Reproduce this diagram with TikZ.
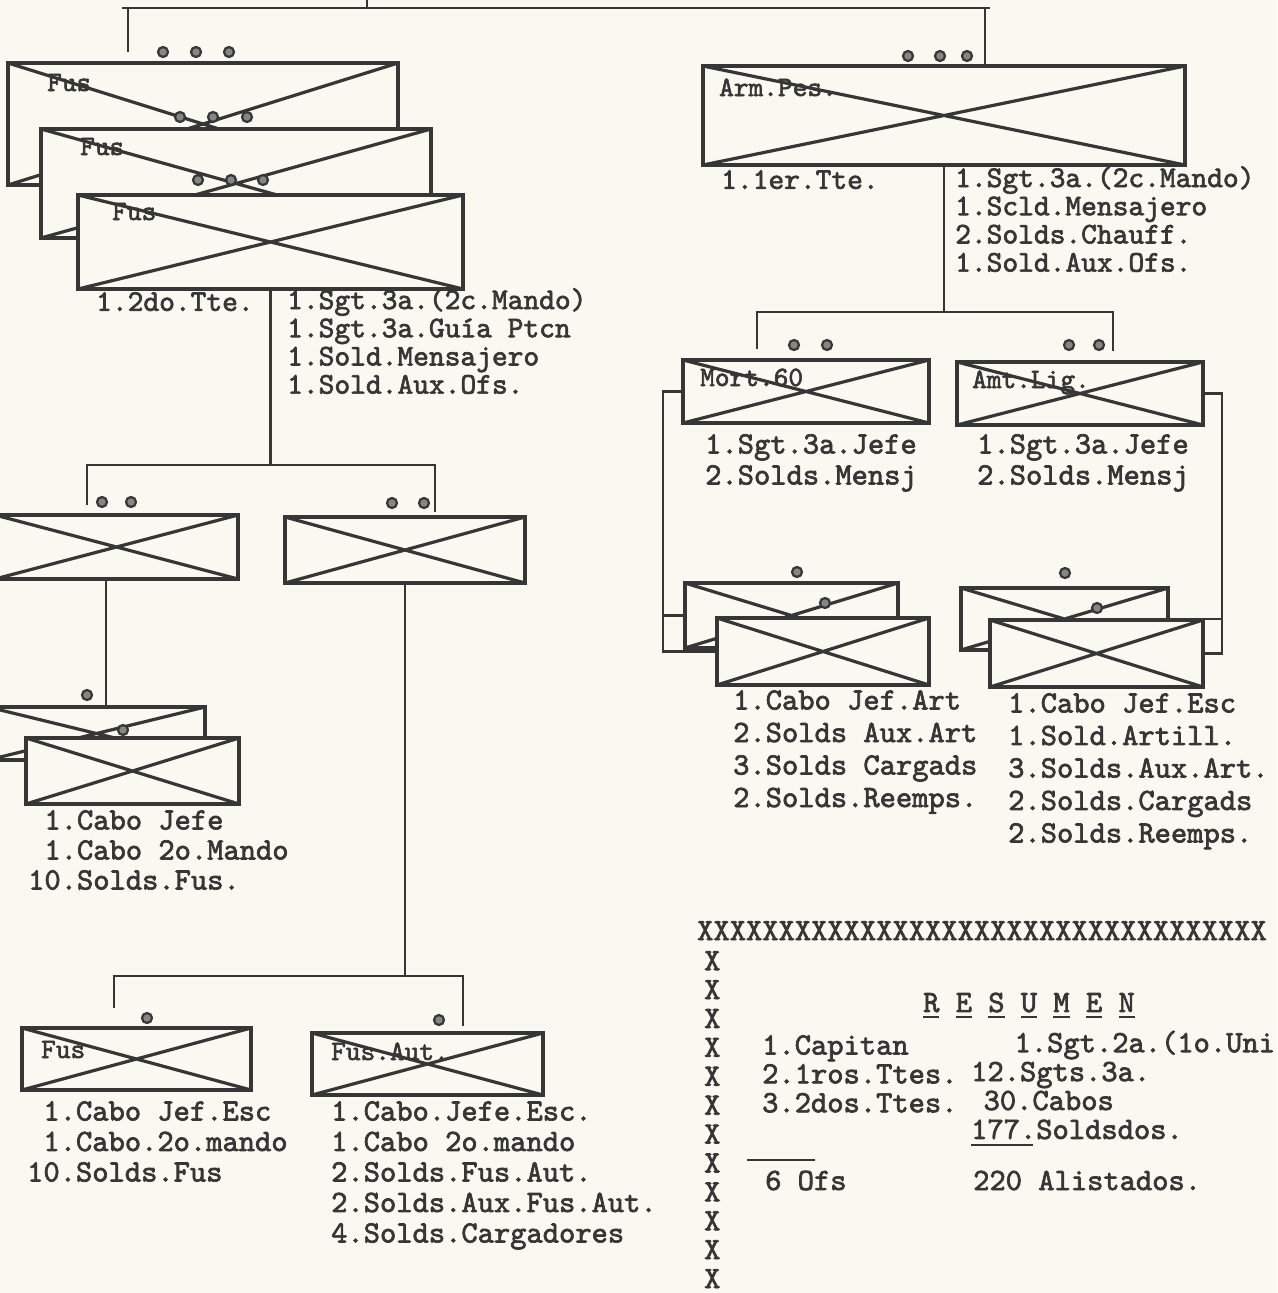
\documentclass[tikz,border=0pt]{standalone}
\usepackage{fontspec}
\newfontfamily\typed{lmmono10-regular}[Extension=.otf, FakeBold=2.2]
\usetikzlibrary{positioning, calc}
\definecolor{paper}{HTML}{FAF9F1}
\definecolor{ink}{HTML}{363636}
% typed underline under one letter
\newcommand\ulc[1]{\rlap{\rule[-6pt]{0.525em}{2.4pt}}#1}

\begin{document}
\begin{tikzpicture}[x=1pt, y=-1pt,
    unitbox/.style={draw=ink, line width=3.4pt, fill=paper, inner sep=0pt,
      path picture={\draw[ink, line width=3.2pt]
        (path picture bounding box.north west) -- (path picture bounding box.south east)
        (path picture bounding box.south west) -- (path picture bounding box.north east);}},
    tag/.style={anchor=base west, inner sep=0pt, text=ink,
      font=\typed\fontsize{28}{28}\selectfont},
    roster/.style={anchor=north west, inner sep=0pt, align=left, text=ink,
      font=\typed\fontsize{31}{#1}\selectfont},
    roster/.default=29,
    head/.style={anchor=north west, inner sep=0pt, align=left, text=ink,
      font=\typed\fontsize{30}{28.2}\selectfont},
    link/.style={draw=ink, line width=2.6pt},
    pip/.style={draw=ink, line width=2.2pt, fill=ink!60}]
  \useasboundingbox (0,0) rectangle (1277,1293);
  \fill[paper] (0,0) rectangle (1277,1293);

  % --- rifle platoons, three deep ---
  \foreach \x in {163,196,229} \draw[pip] (\x,52) circle (5pt);
  \node[unitbox, minimum width=390pt, minimum height=122pt] (fus1) at (203,124) {};
  \node[tag] (fus1l) at (47,91) {Fus};
  \foreach \x in {180,213,247} \draw[pip] (\x,117) circle (5pt);
  \node[unitbox, minimum width=390pt, minimum height=109pt] (fus2) at (236,183.5) {};
  \node[tag] (fus2l) at (80,155) {Fus};
  \foreach \x in {198,231,263} \draw[pip] (\x,180) circle (5pt);
  \node[unitbox, minimum width=385pt, minimum height=94pt] (fus3) at (270.5,242) {};
  \node[tag] (fus3l) at (112,220) {Fus};

  \node[head] (cmdL) at (96,292) {1.2do.Tte.};
  \node[head] (staffL) at (287,288)
    {1.Sgt.3a.(2c.Mando)\\1.Sgt.3a.Guía Ptcn\\1.Sold.Mensajero\\1.Sold.Aux.Ofs.};

  % --- heavy weapons platoon ---
  \foreach \x in {908,940,967} \draw[pip] (\x,56) circle (5pt);
  \node[unitbox, minimum width=482pt, minimum height=99pt] (armpes) at (944,115.5) {};
  \node[tag] (armpesl) at (719,96) {Arm.Pes.};
  \node[head] (cmdR) at (721,170) {1.1er.Tte.};
  \node[head] (staffR) at (955,166)
    {1.Sgt.3a.(2c.Mando)\\1.Scld.Mensajero\\2.Solds.Chauff.\\1.Sold.Aux.Ofs.};

  % top bar
  \coordinate (hq) at (367,0);
  \coordinate (tl) at (122,8);
  \coordinate (tr) at (990,8);
  \coordinate (dropL) at (128,8);
  \coordinate (dropR) at (985,8);
  \draw[link] (tl) -- (tr);
  \draw[link] (hq) -- (hq |- tl);
  \draw[link, shorten >=9pt] (dropL) -- (dropL |- fus1.north);
  \draw[link] (dropR) -- (dropR |- armpes.north);

  % --- sections of a rifle platoon ---
  \foreach \x in {102,131} \draw[pip] (\x,502) circle (5pt);
  \foreach \x in {392,424} \draw[pip] (\x,503) circle (5pt);
  \node[unitbox, minimum width=243pt, minimum height=64pt] (sec1) at (116.5,547) {};
  \node[unitbox, minimum width=240pt, minimum height=66pt] (sec2) at (405,550) {};
  \coordinate (plL) at (87,465);
  \coordinate (plR) at (435,465);
  \draw[link] (fus3.south) -- (fus3.south |- plL);
  \draw[link, shorten <=8pt, shorten >=3pt]
    (plL |- sec1.north) -- (plL) -- (plR) -- (plR |- sec2.north);

  % squads, two deep
  \draw[pip] (87,695) circle (5pt);
  \node[unitbox, minimum width=217pt, minimum height=53pt] (sq1) at (96.5,733.5) {};
  \draw[pip] (123,730) circle (5pt);
  \node[unitbox, minimum width=213pt, minimum height=66pt] (sq2) at (132.5,771) {};
  \coordinate (sqx) at (106,0);
  \draw[link] (sqx |- sec1.south) -- (sqx |- sq1.north);
  \node[roster=30] (sqc) at (28,810)
    {\hspace*{0.525em}1.Cabo Jefe\\\hspace*{0.525em}1.Cabo 2o.Mando\\10.Solds.Fus.};

  % --- rifle and automatic rifle squads ---
  \draw[pip] (147,1018) circle (5pt);
  \draw[pip] (439,1020) circle (5pt);
  \node[unitbox, minimum width=229pt, minimum height=62pt] (fusB) at (136.5,1059) {};
  \node[tag] (fusBl) at (41,1058) {Fus};
  \node[unitbox, minimum width=231pt, minimum height=62pt] (fusA) at (427.5,1064) {};
  \node[tag] (fusAl) at (331,1060) {Fus.Aut.};
  \coordinate (bbL) at (114,976);
  \coordinate (bbR) at (463,976);
  \draw[link] (sec2.south) -- (sec2.south |- bbL);
  \draw[link, shorten <=18pt, shorten >=5pt]
    (bbL |- fusB.north) -- (bbL) -- (bbR) -- (bbR |- fusA.north);
  \node[roster=30.5] (fusBc) at (27,1101)
    {\hspace*{0.525em}1.Cabo Jef.Esc\\\hspace*{0.525em}1.Cabo.2o.mando\\10.Solds.Fus};
  \node[roster=30.5] (fusAc) at (331,1101)
    {1.Cabo.Jefe.Esc.\\1.Cabo 2o.mando\\2.Solds.Fus.Aut.\\2.Solds.Aux.Fus.Aut.\\4.Solds.Cargadores};

  % --- mortar and machine gun sections ---
  \foreach \x in {794,827,1069,1099} \draw[pip] (\x,345) circle (5pt);
  \node[unitbox, minimum width=246pt, minimum height=63pt] (mort) at (806,391.5) {};
  \node[tag] (mortl) at (700,386) {Mort.60};
  \node[unitbox, minimum width=246pt, minimum height=63pt] (amt) at (1080,393.5) {};
  \node[tag] (amtl) at (972,388) {Amt.Lig.};
  \coordinate (wbL) at (757,312);
  \coordinate (wbR) at (1113,312);
  \draw[link] (armpes.south) -- (armpes.south |- wbL);
  \draw[link, shorten <=9pt, shorten >=9pt]
    (wbL |- mort.north) -- (wbL) -- (wbR) -- (wbR |- amt.north);
  \node[roster=31] (mortc) at (705,434) {1.Sgt.3a.Jefe\\2.Solds.Mensj};
  \node[roster=31] (amtc) at (977,434) {1.Sgt.3a.Jefe\\2.Solds.Mensj};

  % weapon teams, two deep
  \draw[pip] (797,572) circle (5pt);
  \node[unitbox, minimum width=213pt, minimum height=65pt] (ard1) at (791.5,615.5) {};
  \draw[pip] (825,603) circle (5pt);
  \node[unitbox, minimum width=212pt, minimum height=67pt] (ard2) at (823,651.5) {};
  \draw[pip] (1065,573) circle (5pt);
  \node[unitbox, minimum width=207pt, minimum height=62pt] (esc1) at (1064.5,619) {};
  \draw[pip] (1097,608) circle (5pt);
  \node[unitbox, minimum width=213pt, minimum height=67pt] (esc2) at (1096.5,653.5) {};
  \coordinate (brL) at (663,0);
  \coordinate (brR) at (1222,0);
  \draw[link] (mort.west) -- (mort.west -| brL) -- (brL |- ard2.west) -- (ard2.west);
  \draw[link] (brL |- ard1.west) -- (ard1.west);
  \draw[link] (amt.east) -- (amt.east -| brR) -- (brR |- esc2.east) -- (esc2.east);
  \draw[link] (esc1.east) -- (esc1.east -| brR);
  \node[roster=32.5] (ardc) at (733,690)
    {1.Cabo Jef.Art\\2.Solds Aux.Art\\3.Solds Cargads\\2.Solds.Reemps.};
  \node[roster=32.5] (escc) at (1008,693)
    {1.Cabo Jef.Esc\\1.Sold.Artill.\\3.Solds.Aux.Art.\\2.Solds.Cargads\\2.Solds.Reemps.};

  % --- resumen ---
  \node[roster] (xrow) at (697,921) {XXXXXXXXXXXXXXXXXXXXXXXXXXXXXXXXXXX};
  \node[roster=28.9] (xcol) at (704,951) {X\\X\\X\\X\\X\\X\\X\\X\\X\\X\\X\\X};
  \node[roster] (title) at (923,992.5)
    {\ulc{R} \ulc{E} \ulc{S} \ulc{U} \ulc{M} \ulc{E} \ulc{N}};
  \node[roster=28.9] (offs) at (762,1035) {1.Capitan\\2.1ros.Ttes.\\3.2dos.Ttes.};
  \node[roster=28.9] (enl) at (971,1030.5)
    {\hspace*{1.4em}1.Sgt.2a.(1o.Uni\\12.Sgts.3a.\\\hspace*{0.4em}30.Cabos\\
     \rlap{\rule[-7pt]{2em}{2.4pt}}177.Soldsdos.};
  \node[roster] (sixofs) at (765,1170.5)
    {\rlap{\smash{\hspace*{-18pt}\raisebox{29pt}{\rule{68pt}{2.4pt}}}}6 Ofs};
  \node[roster] (tot) at (973,1170.5) {220 Alistados.};
\end{tikzpicture}
\end{document}
